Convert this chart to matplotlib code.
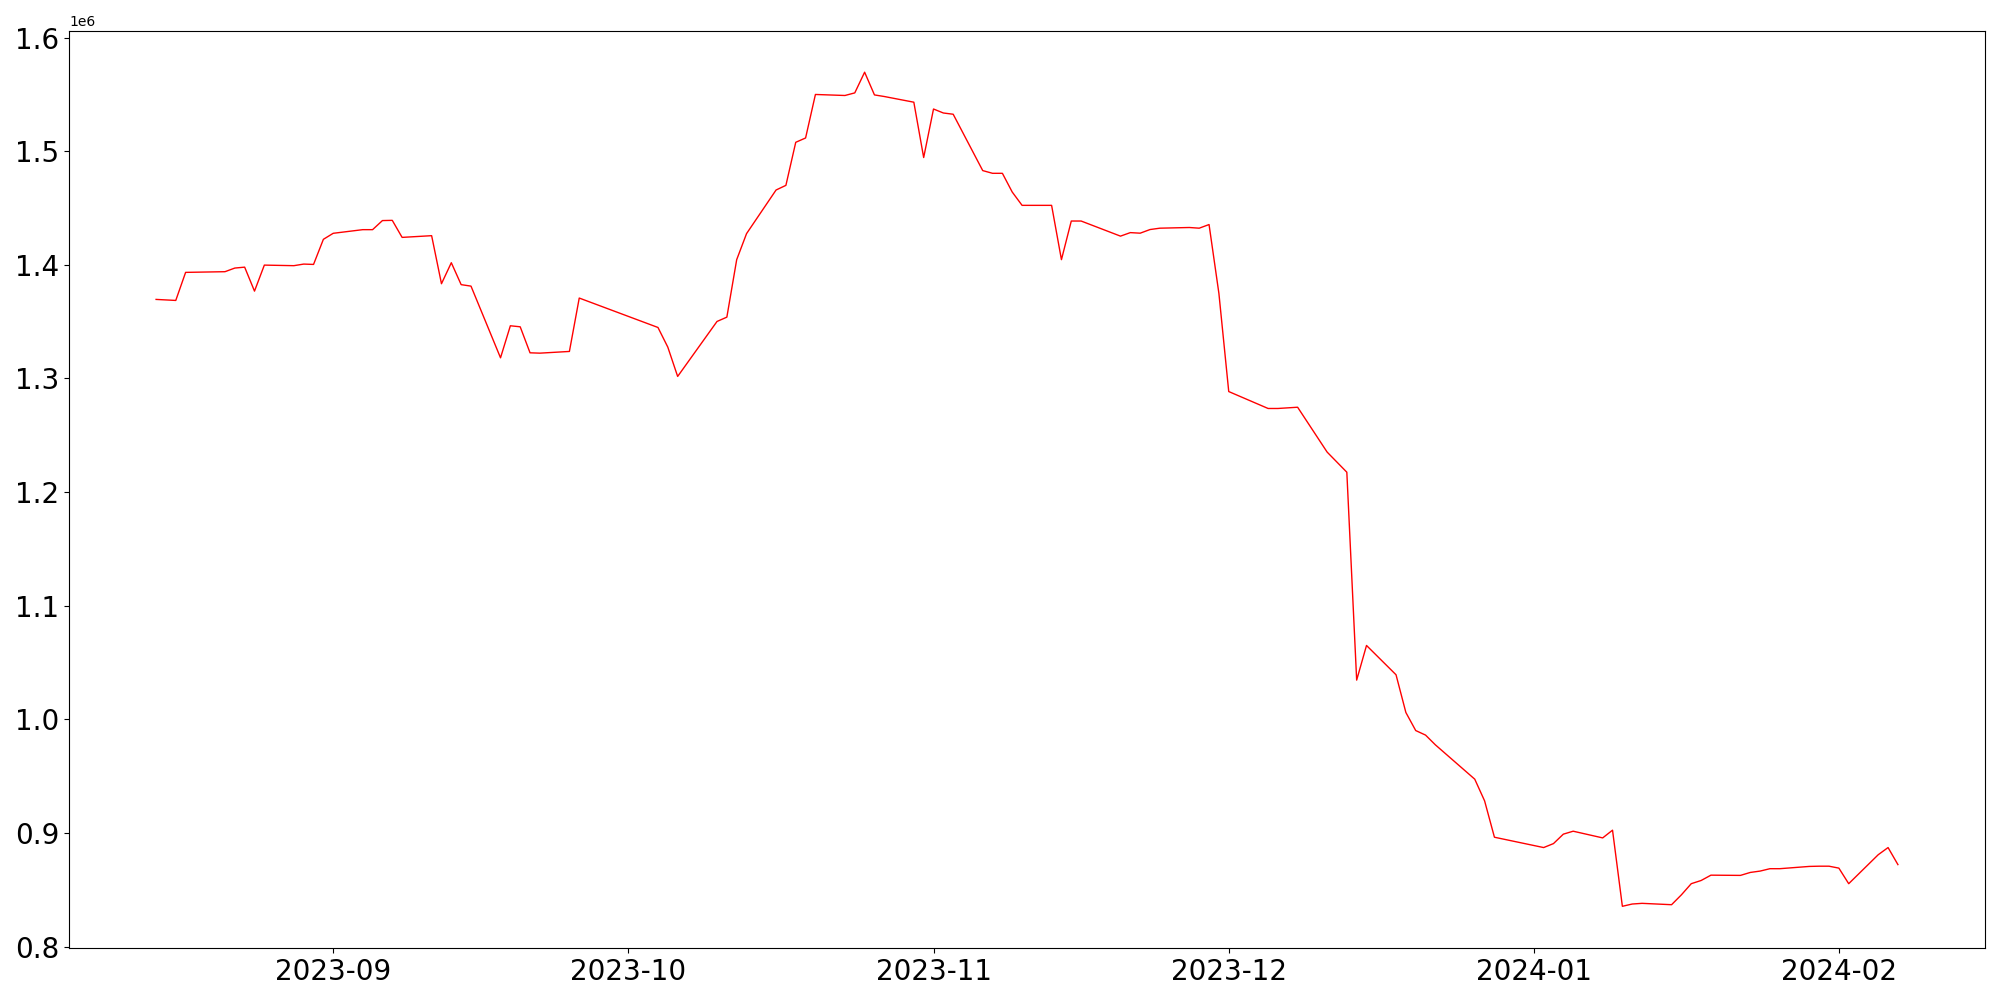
import matplotlib
matplotlib.use("Agg")
import matplotlib.pyplot as plt
import matplotlib.dates as mdates
import pandas as pd

dates = [
    "2023-08-14", "2023-08-16", "2023-08-17", "2023-08-21", "2023-08-22", "2023-08-23",
    "2023-08-24", "2023-08-25", "2023-08-28", "2023-08-29", "2023-08-30", "2023-08-31",
    "2023-09-01", "2023-09-04", "2023-09-05", "2023-09-06", "2023-09-07", "2023-09-08",
    "2023-09-11", "2023-09-12", "2023-09-13", "2023-09-14", "2023-09-15", "2023-09-18",
    "2023-09-19", "2023-09-20", "2023-09-21", "2023-09-22", "2023-09-25", "2023-09-26",
    "2023-10-04", "2023-10-05", "2023-10-06", "2023-10-10", "2023-10-11", "2023-10-12",
    "2023-10-13", "2023-10-16", "2023-10-17", "2023-10-18", "2023-10-19", "2023-10-20",
    "2023-10-23", "2023-10-24", "2023-10-25", "2023-10-26", "2023-10-27", "2023-10-30",
    "2023-10-31", "2023-11-01", "2023-11-02", "2023-11-03", "2023-11-06", "2023-11-07",
    "2023-11-08", "2023-11-09", "2023-11-10", "2023-11-13", "2023-11-14", "2023-11-15",
    "2023-11-16", "2023-11-20", "2023-11-21", "2023-11-22", "2023-11-23", "2023-11-24",
    "2023-11-27", "2023-11-28", "2023-11-29", "2023-11-30", "2023-12-01", "2023-12-05",
    "2023-12-06", "2023-12-08", "2023-12-11", "2023-12-13", "2023-12-14", "2023-12-15",
    "2023-12-18", "2023-12-19", "2023-12-20", "2023-12-21", "2023-12-22", "2023-12-26",
    "2023-12-27", "2023-12-28", "2024-01-02", "2024-01-03", "2024-01-04", "2024-01-05",
    "2024-01-08", "2024-01-09", "2024-01-10", "2024-01-11", "2024-01-12", "2024-01-15",
    "2024-01-16", "2024-01-17", "2024-01-18", "2024-01-19", "2024-01-22", "2024-01-23",
    "2024-01-24", "2024-01-25", "2024-01-26", "2024-01-29", "2024-01-30", "2024-01-31",
    "2024-02-01", "2024-02-02", "2024-02-05", "2024-02-06", "2024-02-07",
]

values_millions = [
    1.3696, 1.3687, 1.3934, 1.3940, 1.3972, 1.3980,
    1.3769, 1.3998, 1.3993, 1.4007, 1.4004, 1.4225,
    1.4278, 1.4310, 1.4310, 1.4390, 1.4392, 1.4242,
    1.4257, 1.3834, 1.4019, 1.3826, 1.3813, 1.3182,
    1.3464, 1.3455, 1.3226, 1.3223, 1.3238, 1.3708,
    1.3449, 1.3276, 1.3018, 1.3502, 1.3540, 1.4046,
    1.4275, 1.4659, 1.4700, 1.5079, 1.5117, 1.5500,
    1.5491, 1.5514, 1.5696, 1.5496, 1.5482, 1.5432,
    1.4945, 1.5372, 1.5337, 1.5326, 1.4830, 1.4806,
    1.4806, 1.4641, 1.4524, 1.4524, 1.4046, 1.4386,
    1.4386, 1.4253, 1.4284, 1.4279, 1.4311, 1.4323,
    1.4329, 1.4323, 1.4355, 1.3749, 1.2885, 1.2736,
    1.2736, 1.2747, 1.2352, 1.2175, 1.0345, 1.0650,
    1.0392, 1.0060, 0.9901, 0.9861, 0.9775, 0.9473,
    0.9282, 0.8962, 0.8871, 0.8906, 0.8989, 0.9015,
    0.8956, 0.9024, 0.8354, 0.8374, 0.8380, 0.8368,
    0.8455, 0.8553, 0.8581, 0.8628, 0.8626, 0.8652,
    0.8664, 0.8685, 0.8685, 0.8705, 0.8707, 0.8707,
    0.8690, 0.8553, 0.8808, 0.8871, 0.8721,
]

x = pd.to_datetime(dates)
y = [v * 1e6 for v in values_millions]

fig, ax = plt.subplots(figsize=(20, 10), dpi=100)
fig.subplots_adjust(left=0.0345, right=0.9925, bottom=0.052, top=0.9695)
ax.plot(x, y, color="red", linewidth=1.0)

ax.xaxis.set_major_locator(mdates.MonthLocator())
ax.xaxis.set_major_formatter(mdates.DateFormatter("%Y-%m"))
ax.tick_params(axis="both", labelsize=20)

fig.savefig("out.png", dpi=100)
